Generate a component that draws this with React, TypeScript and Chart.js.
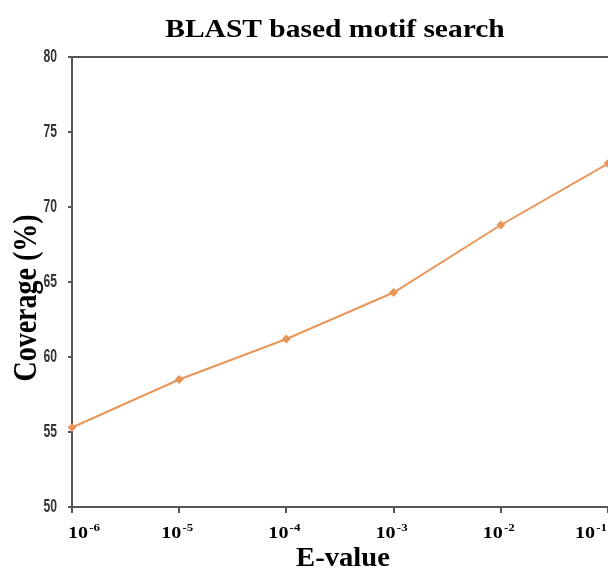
import { useEffect, useRef } from 'react';
import { Chart, registerables } from 'chart.js';

Chart.register(...registerables);

const TITLE = 'BLAST based motif search';
const X_TITLE = 'E-value';
const Y_TITLE = 'Coverage (%)';
const BASES = ['10', '10', '10', '10', '10', '10'];
const EXPONENTS = ['-6', '-5', '-4', '-3', '-2', '-1'];
const CATEGORIES = ['1e-6', '1e-5', '1e-4', '1e-3', '1e-2', '1e-1'];
const COVERAGE = [55.3, 58.5, 61.2, 64.3, 68.8, 72.9];
const Y_MIN = 50;
const Y_MAX = 80;
const Y_STEP = 5;

const LINE_COLOR = '#E8965A';
const AXIS_COLOR = '#555555';
const SERIF = '"Liberation Serif", "Times New Roman", serif';
const SANS = '"Liberation Sans", Arial, sans-serif';
const STRETCH = 1.18;

const textPlugin = {
  id: 'customText',
  afterDraw(chart: any) {
    const { ctx, chartArea, scales, width } = chart;
    const xs = scales.x;
    const ys = scales.y;
    ctx.save();
    // top border
    ctx.strokeStyle = AXIS_COLOR;
    ctx.lineWidth = 2;
    ctx.beginPath();
    ctx.moveTo(chartArea.left - 4, chartArea.top);
    ctx.lineTo(chartArea.right, chartArea.top);
    ctx.stroke();

    // title
    ctx.fillStyle = '#000';
    ctx.textBaseline = 'alphabetic';
    ctx.save();
    ctx.translate(335, 37);
    ctx.scale(STRETCH, 1);
    ctx.font = 'bold 25px ' + SERIF;
    ctx.textAlign = 'center';
    ctx.fillText(TITLE, 0, 0);
    ctx.restore();

    // y tick labels (condensed)
    ctx.fillStyle = '#333';
    ys.ticks.forEach((t: any, i: number) => {
      const y = ys.getPixelForTick(i);
      ctx.save();
      ctx.translate(chartArea.left - 15, y);
      ctx.scale(0.64, 1);
      ctx.font = 'bold 19px ' + SANS;
      ctx.textAlign = 'right';
      ctx.textBaseline = 'middle';
      ctx.fillText(String(t.value), 0, 0);
      ctx.restore();
    });

    // x tick labels with superscripts
    ctx.fillStyle = '#000';
    const baseFont = 'bold 17px ' + SERIF;
    const supFont = 'bold 11px ' + SERIF;
    for (let i = 0; i < CATEGORIES.length; i++) {
      const x = xs.getPixelForTick(i);
      ctx.font = baseFont;
      const w1 = ctx.measureText(BASES[i]).width;
      ctx.font = supFont;
      const w2 = ctx.measureText(EXPONENTS[i]).width;
      const total = (w1 + w2 + 1) * STRETCH;
      let left = x - total / 2 - 2;
      left = Math.max(left, chartArea.left - 4);
      left = Math.min(left, width - 1 - total);
      ctx.save();
      ctx.translate(left, chartArea.bottom + 31);
      ctx.scale(STRETCH, 1);
      ctx.textAlign = 'left';
      ctx.font = baseFont;
      ctx.fillText(BASES[i], 0, 0);
      ctx.font = supFont;
      ctx.fillText(EXPONENTS[i], w1 + 1, -7);
      ctx.restore();
    }

    // x title
    ctx.save();
    ctx.translate((chartArea.left + chartArea.right) / 2 + 3, chartArea.bottom + 59);
    ctx.scale(1.06, 1);
    ctx.font = 'bold 27px ' + SERIF;
    ctx.textAlign = 'center';
    ctx.fillText(X_TITLE, 0, 0);
    ctx.restore();

    // y title
    ctx.save();
    ctx.translate(27, chartArea.top + 241);
    ctx.rotate(-Math.PI / 2);
    ctx.scale(1, STRETCH);
    ctx.font = 'bold 28px ' + SERIF;
    ctx.textAlign = 'center';
    ctx.textBaseline = 'middle';
    ctx.fillText(Y_TITLE, 0, 0);
    ctx.restore();
    ctx.restore();
  },
};

export default function App() {
  const ref = useRef<HTMLCanvasElement | null>(null);
  useEffect(() => {
    if (!ref.current) return;
    const chart = new Chart(ref.current, {
      type: 'line',
      data: {
        labels: CATEGORIES,
        datasets: [
          {
            data: COVERAGE,
            borderColor: LINE_COLOR,
            backgroundColor: LINE_COLOR,
            borderWidth: 2,
            pointStyle: 'rectRot',
            pointRadius: 3,
            tension: 0,
          },
        ],
      },
      options: {
        animation: false,
        responsive: false,
        devicePixelRatio: 1,
        layout: { autoPadding: false, padding: { left: 0, right: 0, top: 57, bottom: 0 } },
        plugins: {
          legend: { display: false },
          tooltip: { enabled: false },
          title: { display: false },
        },
        scales: {
          x: {
            type: 'category',
            offset: false,
            grid: { drawOnChartArea: false, drawTicks: true, tickLength: 6, color: AXIS_COLOR, lineWidth: 2 },
            border: { display: true, color: AXIS_COLOR, width: 2 },
            ticks: { display: false },
            afterFit(scale: any) {
              scale.height = 63;
              scale.paddingLeft = 0;
              scale.paddingRight = 0;
            },
          },
          y: {
            min: Y_MIN,
            max: Y_MAX,
            grid: { drawOnChartArea: false, drawTicks: true, tickLength: 4, color: AXIS_COLOR, lineWidth: 2 },
            border: { display: true, color: AXIS_COLOR, width: 2 },
            ticks: { display: false, stepSize: Y_STEP },
            afterFit(scale: any) {
              scale.width = 72;
              scale.paddingTop = 0;
              scale.paddingBottom = 0;
            },
          },
        },
      },
      plugins: [textPlugin],
    });
    return () => chart.destroy();
  }, []);
  return (
    <div style={{ position: 'fixed', left: 0, top: 0, width: 608, height: 570, background: '#fff' }}>
      <canvas ref={ref} width={608} height={570} />
    </div>
  );
}
